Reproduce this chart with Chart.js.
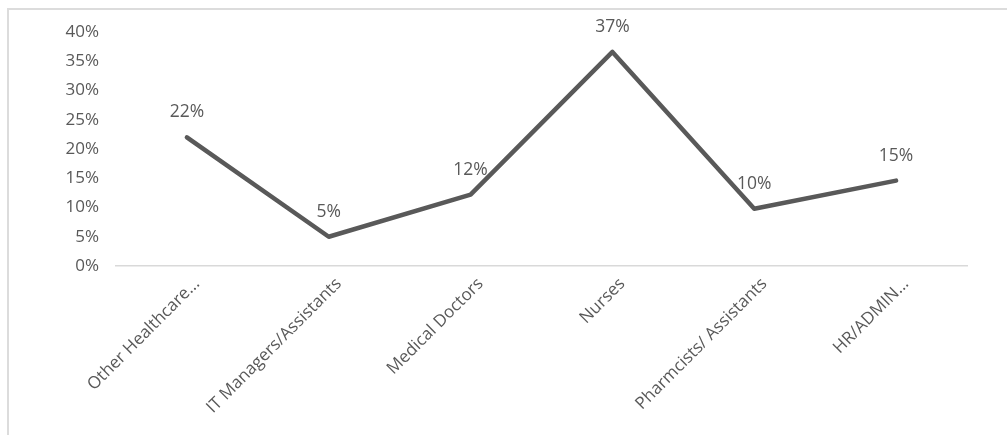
<!DOCTYPE html>
<html>
<head>
<meta charset="utf-8">
<script src="https://cdn.jsdelivr.net/npm/chart.js@4/dist/chart.umd.min.js"></script>
<style>
  html, body { margin: 0; padding: 0; background: #fff; }
  #wrap { position: relative; width: 1007px; height: 435px; overflow: hidden; }
  #frame { position: absolute; left: 7px; top: 8px; width: 1010px; height: 440px;
           border-top: 2px solid #dcdcdc; border-left: 2px solid #dcdcdc; box-sizing: border-box; }
  canvas { position: absolute; left: 0; top: 0; }
</style>
</head>
<body>
<div id="wrap">
  <div id="frame"></div>
  <canvas id="c" width="1007" height="435"></canvas>
</div>
<script>
const categories = ["Other Healthcare...", "IT Managers/Assistants", "Medical Doctors", "Nurses", "Pharmcists/ Assistants", "HR/ADMIN..."];
const shares = [22, 5, 12.2, 36.6, 9.8, 14.6];
const shareLabels = ["22%", "5%", "12%", "37%", "10%", "15%"];
const yMin = 0, yMax = 40, yStep = 5;

const FONT = "'Open Sans', sans-serif";
const TEXT = "#595959";

const labelPlugin = {
  id: 'pointLabels',
  afterDatasetsDraw(chart) {
    const ctx = chart.ctx;
    const meta = chart.getDatasetMeta(0);
    ctx.save();
    ctx.font = "17.5px " + FONT;
    ctx.fillStyle = TEXT;
    ctx.textAlign = 'center';
    ctx.textBaseline = 'middle';
    meta.data.forEach((pt, i) => {
      ctx.fillText(shareLabels[i], pt.x, pt.y - 25);
    });
    ctx.restore();
  }
};

new Chart(document.getElementById('c'), {
  type: 'line',
  data: {
    labels: categories,
    datasets: [{
      data: shares,
      borderColor: '#595959',
      borderWidth: 4.5,
      pointRadius: 0,
      tension: 0,
      borderJoinStyle: 'round',
      borderCapStyle: 'round',
      fill: false
    }]
  },
  options: {
    responsive: false,
    animation: false,
    devicePixelRatio: 1,
    layout: { padding: { left: 0, right: 40, top: 32, bottom: 0 } },
    plugins: { legend: { display: false }, tooltip: { enabled: false } },
    scales: {
      x: {
        offset: true,
        grid: { display: false },
        border: { display: true, color: '#d9d9d9', width: 1.5 },
        ticks: {
          color: TEXT,
          font: { family: FONT, size: 17 },
          maxRotation: 45, minRotation: 45,
          autoSkip: false,
          padding: 0,
          labelOffset: 10
        },
        afterFit(scale) { scale.height = 169; }
      },
      y: {
        min: yMin, max: yMax,
        grid: { display: false },
        border: { display: false },
        ticks: {
          stepSize: yStep,
          color: TEXT,
          font: { family: FONT, size: 17 },
          padding: 9,
          callback: v => v + '%'
        },
        afterFit(scale) { scale.width = 116; }
      }
    }
  },
  plugins: [labelPlugin]
});
</script>
</body>
</html>
